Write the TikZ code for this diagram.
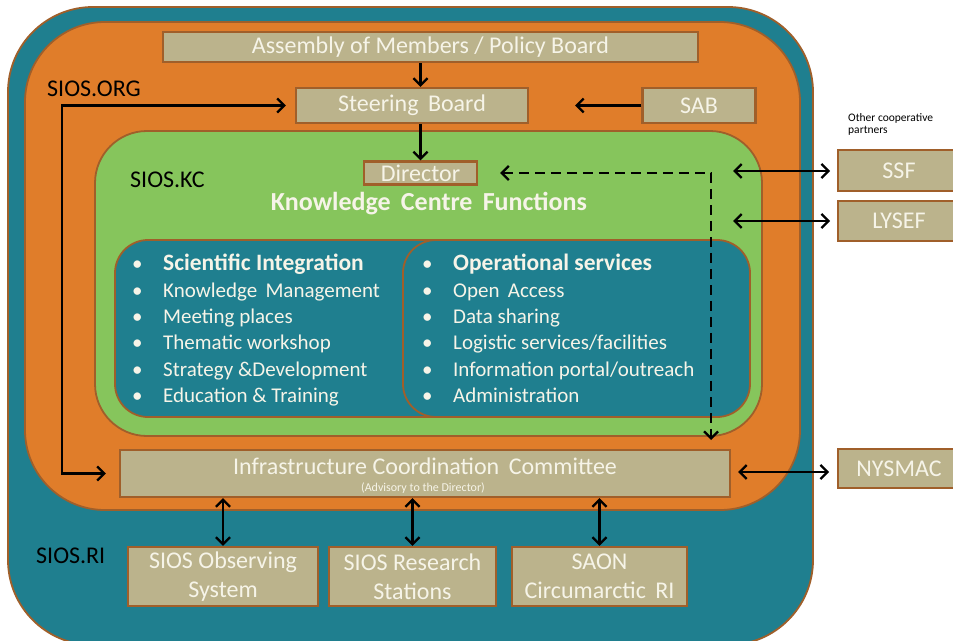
\documentclass[tikz,border=0pt]{standalone}
\usepackage{fontspec}
\setmainfont{Carlito}
\usetikzlibrary{arrows.meta}
\definecolor{teal1}{RGB}{31,127,143}
\definecolor{org}{RGB}{224,125,42}
\definecolor{grn}{RGB}{134,197,92}
\definecolor{tanc}{RGB}{187,179,140}
\definecolor{brd}{RGB}{160,95,42}
\definecolor{wtxt}{RGB}{246,244,232}
\newcommand{\listhead}[1]{{\bfseries\fontsize{23.5}{26.4}\selectfont #1}}
\begin{document}
\begin{tikzpicture}[x=1pt,y=-1pt,
  tanbox/.style={draw=brd,fill=tanc,line width=2.4pt,text=wtxt,inner sep=0pt,align=center,font=\fontsize{24}{29}\selectfont},
  lab/.style={font=\fontsize{24}{28}\selectfont,text=black,inner sep=0pt,anchor=west},
  container/.style={draw=brd,line width=1.8pt},
  tip/.tip={Straight Barb[length=7pt,width=14pt]},
  arr/.style={-tip,line width=2.3pt,black},
  darr/.style={tip-tip,line width=2.3pt,black},
  dasharr/.style={tip-tip,line width=2.3pt,black,dash pattern=on 10pt off 6pt},
  list/.style={font=\fontsize{21}{26.4}\selectfont,text=wtxt,align=left,inner sep=0pt,anchor=north west}
]
\useasboundingbox (0,0) rectangle (953,640);
\clip (0,0) rectangle (953,640);
\fill[white] (0,0) rectangle (953,640);

% containers
\draw[container,fill=teal1,rounded corners=85pt] (8,7) rectangle (813,645);
\draw[container,fill=org,rounded corners=80pt] (25,22) rectangle (800,510);
\draw[container,fill=grn,rounded corners=52pt] (95,131) rectangle (762,436);
\draw[container,fill=teal1,rounded corners=33pt] (115,240) rectangle (470,417);
\draw[container,fill=teal1,rounded corners=33pt] (403,240) rectangle (750,417);

% labels
\node[lab] (orgl) at (47,89) {SIOS.ORG};
\node[lab] (kcl) at (130,180) {SIOS.KC};
\node[lab] (ril) at (36,556) {SIOS.RI};
\node[font=\fontsize{11.5}{12}\selectfont,align=left,anchor=north west,inner sep=0pt] (ocp) at (848,113) {Other cooperative\\partners};
\node[font=\bfseries\fontsize{26}{30}\selectfont,text=wtxt,inner sep=0pt] (kcf) at (429,204) {Knowledge\, Centre\, Functions};

% boxes
\node[tanbox,minimum width=535pt,minimum height=30pt] (assembly) at (430.5,47) {Assembly of Members / Policy Board};
\node[tanbox,minimum width=232pt,minimum height=35pt] (steering) at (412,105.5) {Steering\, Board};
\node[tanbox,minimum width=113pt,minimum height=35pt] (sab) at (699,105.5) {SAB};
\node[tanbox,minimum width=113pt,minimum height=23pt] (director) at (420.5,173) {Director};
\node[tanbox,minimum width=122pt,minimum height=41pt] (ssf) at (899,170.5) {SSF};
\node[tanbox,minimum width=122pt,minimum height=40pt] (lysef) at (899,221) {LYSEF};
\node[tanbox,minimum width=122pt,minimum height=39pt] (nysmac) at (899,468.5) {NYSMAC};
\node[tanbox,minimum width=610pt,minimum height=47pt] (icc) at (425,473.5) {};
\node[text=wtxt,font=\fontsize{24}{29}\selectfont,inner sep=0pt] (icct) at (425,466) {Infrastructure Coordination\, Committee};
\node[text=wtxt,font=\fontsize{12}{14}\selectfont,inner sep=0pt] (icca) at (423,488) {(Advisory to the Director)};
\node[tanbox,minimum width=190pt,minimum height=59pt] (obs) at (223,576.5) {SIOS Observing\\System};
\node[tanbox,minimum width=167pt,minimum height=59pt] (res) at (412.5,576.5) {SIOS Research\\Stations};
\node[tanbox,minimum width=175pt,minimum height=59pt] (saon) at (599.5,576.5) {SAON\\Circumarctic\, RI};

% lists
\node[list] (leftlist) at (132,254) {%
\makebox[31pt][l]{\textbullet}\listhead{Scientific Integration}\\
\makebox[31pt][l]{\textbullet}Knowledge\, Management\\
\makebox[31pt][l]{\textbullet}Meeting places\\
\makebox[31pt][l]{\textbullet}Thematic workshop\\
\makebox[31pt][l]{\textbullet}Strategy \&Development\\
\makebox[31pt][l]{\textbullet}Education \& Training};
\node[list] (rightlist) at (422,254) {%
\makebox[31pt][l]{\textbullet}\listhead{Operational services}\\
\makebox[31pt][l]{\textbullet}Open\, Access\\
\makebox[31pt][l]{\textbullet}Data sharing\\
\makebox[31pt][l]{\textbullet}Logistic services/facilities\\
\makebox[31pt][l]{\textbullet}Information portal/outreach\\
\makebox[31pt][l]{\textbullet}Administration};

% coordinates
\coordinate (sabend) at (575,105.5);
\coordinate (loopx) at (62,300);
\coordinate (dcorner) at (711,440);
\coordinate (ssfA) at (733,171);
\coordinate (ssfB) at (830,171);
\coordinate (lyA) at (733,221);
\coordinate (lyB) at (830,221);
\coordinate (nyA) at (738,472);
\coordinate (nyB) at (829,472);

% connectors
\draw[arr] (assembly.south -| director) -- (steering.north -| director);
\draw[arr] (steering.south -| director) -- (director.north);
\draw[arr] (sab.west) -- (sabend);
\draw[darr] ([xshift=-9pt]steering.west) -| (loopx) |- ([xshift=-13pt]icc.west);
\draw[dasharr] ([xshift=22pt]director.east) -| (dcorner);
\draw[darr] (ssfA) -- (ssfB);
\draw[darr] (lyA) -- (lyB);
\draw[darr] (nyA) -- (nyB);
\draw[darr] (icc.south -| obs) -- (obs.north);
\draw[darr] (icc.south -| res) -- (res.north);
\draw[darr] (icc.south -| saon) -- (saon.north);
\end{tikzpicture}
\end{document}
